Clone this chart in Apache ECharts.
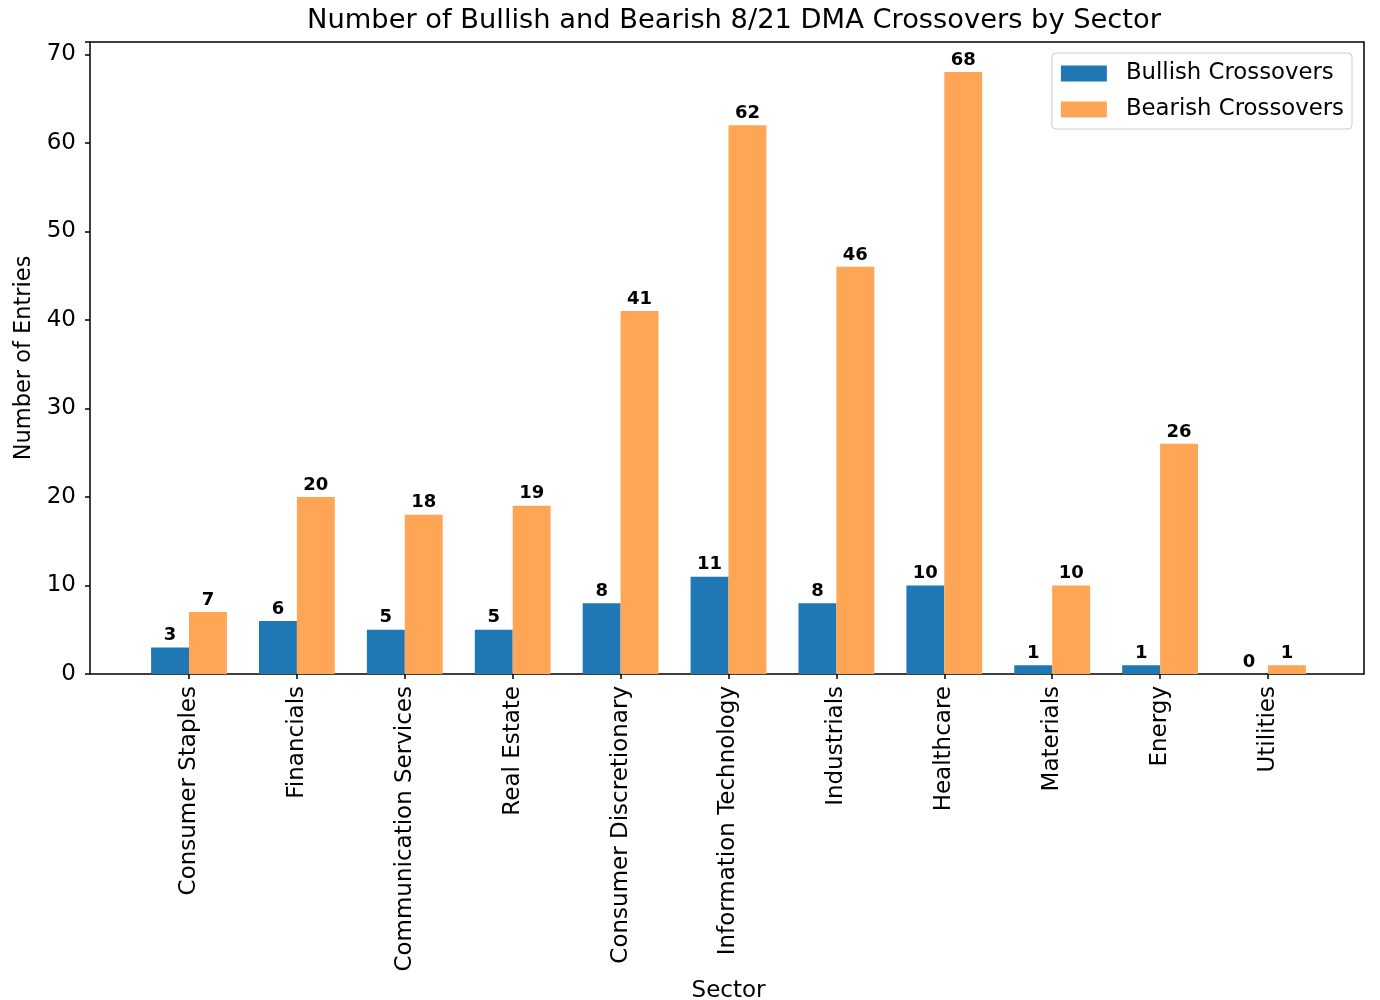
<!DOCTYPE html>
<html><head><meta charset="utf-8">
<script src="https://cdn.jsdelivr.net/npm/echarts@6/dist/echarts.min.js"></script>
<style>html,body{margin:0;padding:0;background:#fff}#c{width:1380px;height:1000px}</style>
</head><body><div id="c"></div>
<script>
const sectors = ["Consumer Staples","Financials","Communication Services","Real Estate","Consumer Discretionary","Information Technology","Industrials","Healthcare","Materials","Energy","Utilities"];
const bullish = [3,6,5,5,8,11,8,10,1,1,0];
const bearish = [7,20,18,19,41,62,46,68,10,26,1];
const yTicks = [0,10,20,30,40,50,60,70];

const F = 'DejaVu Sans';
const chart = echarts.init(document.getElementById('c'));
const yMax = 71.4;
const tickFont = 23;
chart.setOption({
  animation:false,
  title:{text:'Number of Bullish and Bearish 8/21 DMA Crossovers by Sector',left:729,top:2,textAlign:'center',
    textStyle:{fontFamily:F,fontSize:27.3,fontWeight:'normal',color:'#000'}},
  legend:{orient:'vertical',right:28,top:53,icon:'rect',itemWidth:46,itemHeight:16,itemGap:13,padding:[9,8,8,9],
    borderColor:'#ccc',borderWidth:1,borderRadius:4,
    textStyle:{fontFamily:F,fontSize:22.8,color:'#000',lineHeight:23,padding:[0,0,0,14]},
    data:['Bullish Crossovers','Bearish Crossovers']},
  grid:[
    {left:90,right:16,top:42,bottom:326,show:true,borderColor:'#000',borderWidth:1.5,backgroundColor:'transparent',outerBoundsMode:'none',containLabel:false},
    {left:135.05,width:1186.9,top:42,bottom:326,outerBoundsMode:'none',containLabel:false}
  ],
  xAxis:[
    {gridIndex:0,type:'value',min:0,max:1,show:false},
    {gridIndex:1,type:'category',data:sectors,boundaryGap:true,
      name:'Sector',nameLocation:'middle',nameGap:305,nameTextStyle:{fontFamily:F,fontSize:tickFont,color:'#000'},
      axisLine:{show:false},
      axisTick:{show:true,alignWithLabel:true,length:5,lineStyle:{color:'#000',width:1.5}},
      axisLabel:{rotate:90,fontFamily:F,fontSize:tickFont,color:'#000',margin:12,interval:0}}
  ],
  yAxis:[
    {gridIndex:0,type:'value',min:0,max:yMax,interval:10,
      name:'Number of Entries',nameLocation:'middle',nameGap:44,nameTextStyle:{fontFamily:F,fontSize:22.5,color:'#000'},
      axisLine:{show:false},splitLine:{show:false},
      axisTick:{show:true,length:5,lineStyle:{color:'#000',width:1.5}},
      axisLabel:{fontFamily:F,fontSize:tickFont,color:'#000',margin:14,
        formatter:v=>yTicks.includes(v)?String(v):''}},
    {gridIndex:1,type:'value',min:0,max:yMax,show:false}
  ],
  series:[
    {name:'Bullish Crossovers',type:'bar',xAxisIndex:1,yAxisIndex:1,data:bullish,barWidth:37.9,barGap:'0%',
      itemStyle:{color:'#1f77b4'},
      label:{show:true,position:'top',distance:3,fontFamily:F,fontSize:18,fontWeight:'bold',color:'#000'}},
    {name:'Bearish Crossovers',type:'bar',xAxisIndex:1,yAxisIndex:1,data:bearish,barWidth:37.9,barGap:'0%',
      itemStyle:{color:'#ffa556'},
      label:{show:true,position:'top',distance:3,fontFamily:F,fontSize:18,fontWeight:'bold',color:'#000'}}
  ]
});
</script></body></html>
